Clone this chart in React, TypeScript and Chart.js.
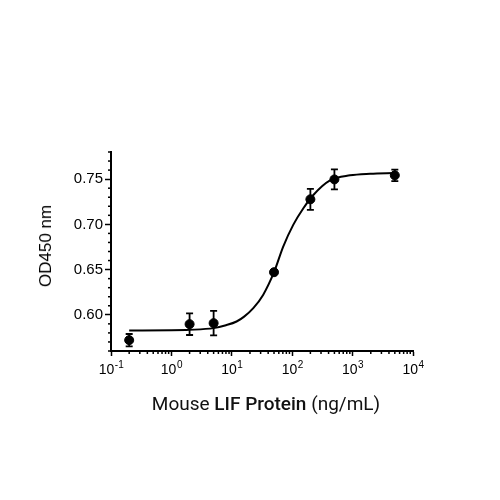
import React, { useEffect, useRef } from 'react';
import { Chart, ChartConfiguration, registerables } from 'chart.js';

Chart.register(...registerables);

// measured points (mean +/- error)
const concentrations = [0.2, 2, 5, 50, 200, 500, 5000];
const odMeans = [0.572, 0.5897, 0.5908, 0.6471, 0.7277, 0.7497, 0.7542];
const odErrors = [0.0068, 0.012, 0.0135, 0.002, 0.0116, 0.011, 0.0063];

// fitted curve
const fitX = [0.2, 1, 2, 5, 8, 12, 16, 22.7, 33, 50, 71, 104, 153, 224, 423, 906, 1950, 5000];
const fitY = [0.5827, 0.5829, 0.5834, 0.5853, 0.5885, 0.5926, 0.598, 0.6074, 0.622, 0.6471, 0.6754, 0.6994, 0.7178, 0.7325, 0.7486, 0.7542, 0.756, 0.7568];

const yMajorTicks = [0.6, 0.65, 0.7, 0.75];
const yMinorTicks = [0.56, 0.57, 0.58, 0.59, 0.61, 0.62, 0.63, 0.64, 0.66, 0.67, 0.68, 0.69, 0.71, 0.72, 0.73, 0.74, 0.76, 0.77, 0.78];
const xDecades = [-1, 0, 1, 2, 3, 4];

const tickFont = '"Liberation Sans", Arial, sans-serif';

const axisExtras = {
  id: 'axisExtras',
  afterDraw(chart: Chart) {
    const { ctx } = chart;
    const x = chart.scales.x;
    const y = chart.scales.y;
    ctx.save();
    ctx.strokeStyle = '#000';
    ctx.lineWidth = 1.5;
    yMinorTicks.forEach((v) => {
      const py = y.getPixelForValue(v);
      ctx.beginPath();
      ctx.moveTo(y.right - 3, py);
      ctx.lineTo(y.right, py);
      ctx.stroke();
    });
    for (let d = -1; d < 4; d++) {
      for (let k = 2; k < 10; k++) {
        const px = x.getPixelForValue(k * Math.pow(10, d));
        ctx.beginPath();
        ctx.moveTo(px, x.top);
        ctx.lineTo(px, x.top + 3);
        ctx.stroke();
      }
    }
    // decade labels with superscript exponent
    ctx.fillStyle = '#000';
    ctx.textBaseline = 'alphabetic';
    xDecades.forEach((e) => {
      const px = x.getPixelForValue(Math.pow(10, e));
      const base = '10';
      const exp = String(e);
      ctx.font = `14px ${tickFont}`;
      const wb = ctx.measureText(base).width;
      ctx.font = `10px ${tickFont}`;
      const we = ctx.measureText(exp).width;
      const left = px - (wb + we) / 2;
      ctx.font = `14px ${tickFont}`;
      ctx.fillText(base, left, x.top + 23);
      ctx.font = `10px ${tickFont}`;
      ctx.fillText(exp, left + wb + 0.5, x.top + 17);
    });
    ctx.restore();
  },
};

const errorBars = {
  id: 'errorBars',
  afterDatasetsDraw(chart: Chart) {
    const { ctx } = chart;
    const x = chart.scales.x;
    const y = chart.scales.y;
    ctx.save();
    ctx.strokeStyle = '#000';
    ctx.lineWidth = 1.8;
    concentrations.forEach((c, i) => {
      const px = x.getPixelForValue(c);
      const top = y.getPixelForValue(odMeans[i] + odErrors[i]);
      const bottom = y.getPixelForValue(odMeans[i] - odErrors[i]);
      ctx.beginPath();
      ctx.moveTo(px, top);
      ctx.lineTo(px, bottom);
      ctx.moveTo(px - 3.5, top);
      ctx.lineTo(px + 3.5, top);
      ctx.moveTo(px - 3.5, bottom);
      ctx.lineTo(px + 3.5, bottom);
      ctx.stroke();
    });
    ctx.restore();
  },
};

const App: React.FC = () => {
  const chartRef = useRef<HTMLCanvasElement | null>(null);
  const chartInstance = useRef<Chart | null>(null);

  useEffect(() => {
    if (!chartRef.current) return;
    const ctx = chartRef.current.getContext('2d');
    if (!ctx) return;

    const config: ChartConfiguration = {
      type: 'scatter',
      data: {
        datasets: [
          {
            type: 'line',
            label: 'fit',
            data: fitX.map((v, i) => ({ x: v, y: fitY[i] })),
            borderColor: '#000',
            borderWidth: 2,
            pointRadius: 0,
            cubicInterpolationMode: 'monotone',
            fill: false,
          },
          {
            label: 'OD450',
            data: concentrations.map((v, i) => ({ x: v, y: odMeans[i] })),
            backgroundColor: '#000',
            borderColor: '#000',
            pointRadius: 4.5,
          },
        ],
      },
      options: {
        animation: false,
        responsive: true,
        maintainAspectRatio: false,
        layout: { padding: { left: 0, top: 152, right: 87, bottom: 119 } },
        scales: {
          x: {
            type: 'logarithmic',
            min: 0.1,
            max: 10000,
            afterBuildTicks: (scale) => {
              scale.ticks = xDecades.map((e) => ({ value: Math.pow(10, e) }));
            },
            afterFit: (scale) => {
              scale.height = 30;
            },
            ticks: { display: false },
            grid: {
              drawOnChartArea: false,
              tickLength: 5,
              tickWidth: 1.5,
              color: '#000',
            },
            border: { display: true, color: '#000', width: 2 },
          },
          y: {
            min: 0.56,
            max: 0.78,
            afterBuildTicks: (scale) => {
              scale.ticks = yMajorTicks.map((v) => ({ value: v }));
            },
            afterFit: (scale) => {
              scale.width = 111;
            },
            ticks: {
              color: '#000',
              padding: 2,
              font: { family: tickFont, size: 15 },
              callback: (v) => Number(v).toFixed(2),
            },
            grid: {
              drawOnChartArea: false,
              tickLength: 6,
              tickWidth: 1.5,
              color: '#000',
            },
            border: { display: true, color: '#000', width: 2 },
          },
        },
        plugins: {
          legend: { display: false },
          tooltip: { enabled: false },
        },
      },
      plugins: [errorBars, axisExtras],
    };

    chartInstance.current = new Chart(ctx, config);

    return () => {
      if (chartInstance.current) {
        chartInstance.current.destroy();
        chartInstance.current = null;
      }
    };
  }, []);

  return (
    <div style={{ position: 'absolute', left: 0, top: 0, width: 500, height: 500, background: '#fff' }}>
      <canvas ref={chartRef} />
      <span
        style={{
          position: 'absolute',
          left: 46,
          top: 246,
          transform: 'translate(-50%, -50%) rotate(-90deg)',
          whiteSpace: 'nowrap',
          fontFamily: tickFont,
          fontSize: 17,
          color: '#000',
        }}
      >
        OD450 nm
      </span>
      <span
        style={{
          position: 'absolute',
          left: 266,
          top: 403,
          transform: 'translate(-50%, -50%)',
          whiteSpace: 'nowrap',
          fontFamily: 'Roboto, sans-serif',
          fontSize: 19,
          color: '#111',
        }}
      >
        Mouse <span style={{ fontWeight: 500 }}>LIF Protein</span> (ng/mL)
      </span>
    </div>
  );
};

export default App;
